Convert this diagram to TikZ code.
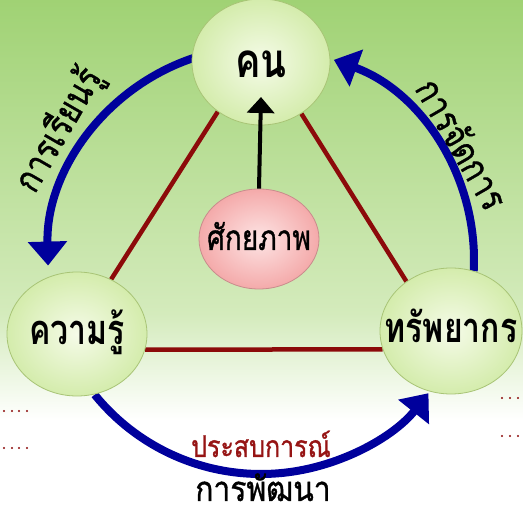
\documentclass[tikz,border=0pt]{standalone}
\usepackage{fontspec}
\newfontfamily\thai[Script=Thai]{Loma}
\newfontfamily\thaimed[Script=Thai,FakeBold=1.1]{Loma}
\usetikzlibrary{shapes.geometric,arrows.meta}
\pgfdeclarelayer{bg}
\pgfdeclarelayer{lines}
\pgfsetlayers{bg,lines,main}
\definecolor{bgtop}{RGB}{160,210,116}
\definecolor{bgmid}{RGB}{212,235,188}
\definecolor{arcblue}{RGB}{0,0,156}
\definecolor{linered}{RGB}{140,10,10}
\definecolor{txtred}{RGB}{150,20,20}
\definecolor{bubin}{RGB}{245,251,232}
\definecolor{bubout}{RGB}{212,236,172}
\definecolor{bubline}{RGB}{168,196,118}
\definecolor{pinkin}{RGB}{253,228,228}
\definecolor{pinkout}{RGB}{244,170,170}
\definecolor{pinkline}{RGB}{200,140,140}
\newcommand{\ntext}[3]{\raisebox{#2}[0pt][0pt]{\makebox[0pt]{\scalebox{1}[#3]{#1}}}}
\begin{document}
\begin{tikzpicture}[x=1pt,y=1pt,
  bubble/.style={ellipse, draw=bubline, line width=0.8pt, inner color=bubin, outer color=bubout, inner sep=0pt, text=black},
  pinkbubble/.style={ellipse, draw=pinkline, line width=0.8pt, inner color=pinkin, outer color=pinkout, inner sep=0pt, text=black},
  bluearc/.style={draw=arcblue, line width=8pt, -{Triangle[width=38pt,length=24pt]}},
  redline/.style={draw=linered, line width=4.5pt},
  arclabel/.style={font=\thaimed\fontsize{31}{31}\selectfont, text=black, inner sep=0pt},
  dot/.style={fill=linered}
]
\useasboundingbox (0,0) rectangle (523,514);
\begin{pgfonlayer}{bg}
\fill[white] (0,0) rectangle (523,514);
\shade[top color=bgtop, bottom color=bgmid] (0,200) rectangle (523,514);
\shade[top color=bgmid, bottom color=white] (0,94) rectangle (523,200.5);
\end{pgfonlayer}

\coordinate (C) at (261,254);

% bubbles
\node[bubble, minimum width=138pt, minimum height=126pt,
      font=\thai\bfseries\fontsize{38}{38}\selectfont] (top) at (261,452) {\ntext{คน}{-16pt}{1.25}};
\node[bubble, minimum width=140pt, minimum height=124pt,
      font=\thai\bfseries\fontsize{32}{32}\selectfont] (left) at (77,180) {\ntext{ความรู้}{-11pt}{1.3}};
\node[bubble, minimum width=142pt, minimum height=126pt,
      font=\thai\bfseries\fontsize{32}{32}\selectfont] (right) at (451,183) {\ntext{ทรัพยากร}{-12pt}{1.3}};
\node[pinkbubble, minimum width=120pt, minimum height=100pt,
      font=\thaimed\fontsize{28}{28}\selectfont] (mid) at (259,275) {\ntext{ศักยภาพ}{-11pt}{1.25}};

% connectors under the bubbles
\begin{pgfonlayer}{lines}
\draw[bluearc] ([shift={(108:213pt)}]C) arc[start angle=108, end angle=181.5, radius=213pt];
\draw[bluearc] ([shift={(-3:213pt)}]C) arc[start angle=-3, end angle=70, radius=213pt];
\draw[bluearc] ([shift={(219:214pt)}]C) arc[start angle=219, end angle=321.5, radius=214pt];
\draw[redline] (top.229) -- (left.58);
\draw[redline] (top.308) -- (right.132);
\draw[redline] (left.-13) -- (right.195);
\end{pgfonlayer}

\coordinate (tiptop) at (261,417);
\draw[line width=4pt, -{Triangle[width=27pt,length=16pt]}] (mid.north) -- (tiptop);

% arc labels
\node[arclabel, rotate=60, anchor=south] (lblL) at ([shift={(147:219pt)}]C) {\scalebox{1}[1.2]{การเรียนรู้}};
\node[arclabel, rotate=-60, anchor=south] (lblR) at ([shift={(30:218pt)}]C) {\scalebox{1}[1.2]{การจัดการ}};
\node[arclabel, text=txtred, font=\thaimed\fontsize{25}{25}\selectfont, anchor=base] (lblB1) at (261,57) {\scalebox{1}[1.2]{ประสบการณ์}};
\node[arclabel, font=\thaimed\fontsize{30}{30}\selectfont, anchor=base] (lblB2) at (263,13) {\scalebox{1}[1.15]{การพัฒนา}};

% dots
\foreach \x in {4,12,19,27} {\fill[dot] (\x,103) circle (1.2pt); \fill[dot] (\x,66) circle (1.2pt);}
\foreach \x in {502,510,518} {\fill[dot] (\x,116) circle (1.2pt); \fill[dot] (\x,78) circle (1.2pt);}
\end{tikzpicture}
\end{document}
